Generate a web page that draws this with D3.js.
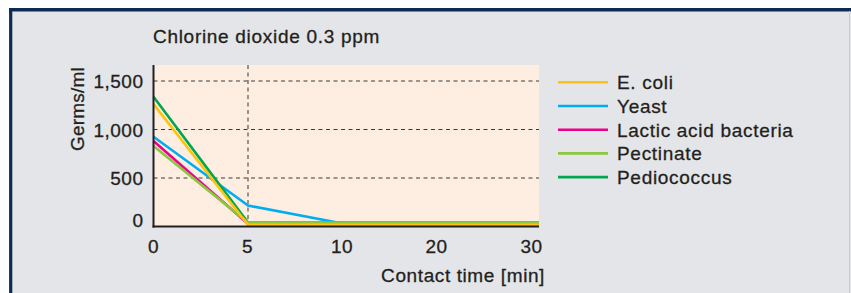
<!DOCTYPE html>
<html>
<head>
<meta charset="utf-8">
<script src="https://cdn.jsdelivr.net/npm/d3@7"></script>
<style>
  body { margin: 0; background: #fff; }
  svg text { font-family: "Liberation Sans", Arial, sans-serif; fill: #231f20;
    stroke: #231f20; stroke-width: 0.3px; }
</style>
</head>
<body>
<svg id="chart" width="851" height="293"></svg>
<script>
// data
var times = [0, 5, 10, 20, 30];
var seriesNames = ["E. coli", "Yeast", "Lactic acid bacteria", "Pectinate", "Pediococcus"];
var seriesColors = ["#ffc20e", "#00aeef", "#ec008c", "#8dc63f", "#00a651"];
var eColi = [1262, 18, 18, 18, 18];
var yeast = [926, 216, 30, 30, 30];
var lactic = [881, 28, 28, 28, 28];
var pectinate = [830, 40, 40, 40, 40];
var pediococcus = [1338, 40, 40, 40, 40];
var yTicks = [0, 500, 1000, 1500];
// drawing order, bottom to top
var drawOrder = ["Yeast", "Lactic acid bacteria", "Pediococcus", "Pectinate", "E. coli"];

var allValues = [eColi, yeast, lactic, pectinate, pediococcus];

var svg = d3.select("#chart");

// frame
svg.append("rect").attr("x", 9).attr("y", 8).attr("width", 851).attr("height", 300)
  .attr("fill", "#e4e5e8");
svg.append("line").attr("x1", 9).attr("x2", 851).attr("y1", 9.8).attr("y2", 9.8)
  .attr("stroke", "#0c2a52").attr("stroke-width", 3.4);
svg.append("line").attr("x1", 10.7).attr("x2", 10.7).attr("y1", 8).attr("y2", 293)
  .attr("stroke", "#0c2a52").attr("stroke-width", 3.2);
svg.append("line").attr("x1", 849.5).attr("x2", 849.5).attr("y1", 11).attr("y2", 293)
  .attr("stroke", "#c9cacd").attr("stroke-width", 1);

var plotLeft = 153.5, plotRight = 539, plotTop = 65, plotBottom = 226.5;

// category positions are evenly spaced; last one sits on the plot edge
var x = d3.scaleLinear().domain(times).range([plotLeft, 248, 342.5, 437, plotRight]);
var y = d3.scaleLinear().domain([0, 1500]).range([plotBottom, 81]);

// plot background
svg.append("rect").attr("x", plotLeft).attr("y", plotTop)
  .attr("width", plotRight - plotLeft).attr("height", plotBottom - plotTop)
  .attr("fill", "#fdeee1");

// grid lines
svg.append("g").selectAll("line.hgrid")
  .data(yTicks.filter(function(d){ return d > 0; }))
  .enter().append("line").attr("class", "hgrid")
  .attr("x1", plotLeft).attr("x2", plotRight)
  .attr("y1", function(d){ return y(d); }).attr("y2", function(d){ return y(d); })
  .attr("stroke", "#3a3a3a").attr("stroke-width", 1).attr("stroke-dasharray", "4,3.5");
svg.append("line")
  .attr("x1", x(5)).attr("x2", x(5)).attr("y1", plotTop).attr("y2", plotBottom)
  .attr("stroke", "#555").attr("stroke-width", 1.2).attr("stroke-dasharray", "4,3.5");

// series lines
var lineGen = d3.line()
  .x(function(d, i){ return x(times[i]); })
  .y(function(d){ return y(d); });

var seriesData = seriesNames.map(function(n, i){
  return { name: n, color: seriesColors[i], values: allValues[i] };
});

svg.append("g").selectAll("path.series")
  .data(drawOrder.map(function(n){ return seriesData[seriesNames.indexOf(n)]; }))
  .enter().append("path").attr("class", "series")
  .attr("d", function(d){ return lineGen(d.values); })
  .attr("fill", "none")
  .attr("stroke", function(d){ return d.color; })
  .attr("stroke-width", 2.6)
  .attr("stroke-linejoin", "round");

// axes
var yAxis = svg.append("g").attr("transform", "translate(" + plotLeft + ",0)")
  .call(d3.axisLeft(y).tickValues(yTicks).tickSize(0).tickPadding(10)
    .tickFormat(d3.format(",")));
yAxis.select(".domain").remove();
yAxis.selectAll("text")
  .style("font-size", "19px").style("letter-spacing", "0.5px")
  .attr("dy", function(d){ return d === 0 ? "0em" : "0.35em"; });

var xAxis = svg.append("g").attr("transform", "translate(0," + plotBottom + ")")
  .call(d3.axisBottom(x).tickValues(times).tickFormat(d3.format("d")).tickSize(0).tickPadding(0));
xAxis.select(".domain").remove();
xAxis.selectAll("text")
  .attr("y", 26.5).attr("dy", 0)
  .attr("dx", function(d){ return d === 30 ? -8 : (d === 0 ? -0.5 : -1); })
  .style("font-size", "19px").style("letter-spacing", "0.5px");

svg.append("line").attr("x1", plotLeft).attr("x2", plotLeft).attr("y1", plotTop).attr("y2", plotBottom + 1)
  .attr("stroke", "#231f20").attr("stroke-width", 2);
svg.append("line").attr("x1", plotLeft - 1).attr("x2", plotRight).attr("y1", plotBottom).attr("y2", plotBottom)
  .attr("stroke", "#231f20").attr("stroke-width", 2);

// titles
svg.append("text").attr("x", 153).attr("y", 42.5)
  .style("font-size", "19px").style("letter-spacing", "0.7px")
  .text("Chlorine dioxide 0.3 ppm");
svg.append("text").attr("x", 545).attr("y", 281.5).attr("text-anchor", "end")
  .style("font-size", "19px").style("letter-spacing", "0.6px")
  .text("Contact time [min]");
svg.append("text")
  .attr("transform", "translate(84,109) rotate(-90)")
  .attr("text-anchor", "middle")
  .style("font-size", "19px").style("letter-spacing", "0.2px")
  .text("Germs/ml");

// legend
var legend = svg.append("g").selectAll("g.item")
  .data(seriesData)
  .enter().append("g").attr("class", "item")
  .attr("transform", function(d, i){ return "translate(558," + (82.3 + i * 23.7) + ")"; });
legend.append("line").attr("x1", 0).attr("x2", 50)
  .attr("stroke", function(d){ return d.color; }).attr("stroke-width", 2.6);
legend.append("text").attr("x", 59).attr("dy", "0.36em")
  .style("font-size", "19px").style("letter-spacing", "0.7px")
  .text(function(d){ return d.name; });
</script>
</body>
</html>
